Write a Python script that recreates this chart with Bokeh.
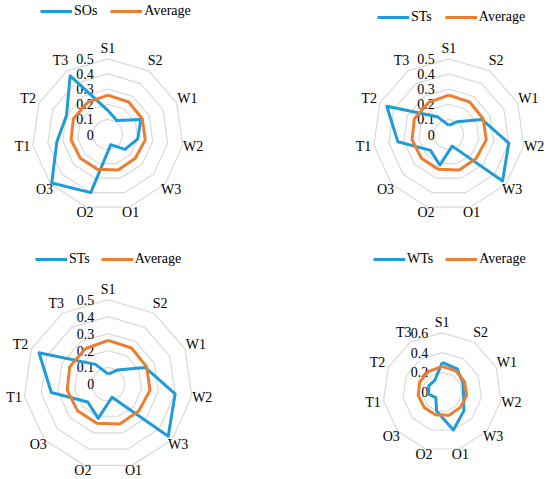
import math
from bokeh.plotting import figure
from bokeh.models import Range1d, Legend, LegendItem
from bokeh.layouts import row, column
from bokeh.embed import file_html
from bokeh.resources import INLINE
from bokeh.core.properties import value

# ---- data ----
categories = ["S1", "S2", "W1", "W2", "W3", "O1", "O2", "O3", "T1", "T2", "T3"]
sos = [0.16, 0.11, 0.24, 0.20, 0.15, 0.07, 0.40, 0.49, 0.34, 0.30, 0.46]
sts = [0.06, 0.10, 0.24, 0.40, 0.47, 0.08, 0.21, 0.16, 0.34, 0.45, 0.14]
wts = [0.30, 0.28, 0.23, 0.22, 0.29, 0.40, 0.20, 0.085, 0.14, 0.15, 0.14]
average = [0.26, 0.255, 0.25, 0.25, 0.24, 0.245, 0.24, 0.24, 0.245, 0.25, 0.25]

ticks_a = [0, 0.1, 0.2, 0.3, 0.4, 0.5]
tick_labels_a = ["0", "0.1", "0.2", "0.3", "0.4", "0.5"]
ticks_b = [0, 0.2, 0.4, 0.6]
tick_labels_b = ["0", "0.2", "0.4", "0.6"]

BLUE = "#1F9BD7"
ORANGE = "#ED7D31"
GRID = "#D9D9D9"
FONT = "'Liberation Serif', 'Times New Roman', serif"
FS = "14px"


def closed(vals, ang):
    xs = [v * math.cos(a) for v, a in zip(vals, ang)]
    ys = [v * math.sin(a) for v, a in zip(vals, ang)]
    return xs + xs[:1], ys + ys[:1]


def radar(name, series, ticks, tick_labels, width, height, cx, cy, scale,
          leg_x, leg_y, leg_spacing):
    n = len(categories)
    ang = [math.pi / 2 - 2 * math.pi * k / n for k in range(n)]
    p = figure(width=width, height=height,
               x_range=Range1d(-cx / scale, (width - cx) / scale),
               y_range=Range1d(-(height - cy) / scale, cy / scale),
               output_backend="svg", toolbar_location=None, tools="",
               min_border=0, x_axis_type=None, y_axis_type=None,
               outline_line_color=None)
    p.xgrid.visible = False
    p.ygrid.visible = False

    # rings
    for t in ticks[1:]:
        xs, ys = closed([t] * n, ang)
        p.line(xs, ys, line_color=GRID, line_width=1.2)

    # tick labels
    p.text(x=[0] * len(ticks), y=ticks, text=tick_labels, x_offset=-14,
           text_align="right", text_baseline="middle",
           text_font=value(FONT), text_font_size=FS, text_color="black")

    # category labels
    tmax = ticks[-1]
    lx, ly = [], []
    for a in ang:
        off = 7 + 3 * math.sin(a) + 4 * abs(math.cos(a))
        r = tmax + off / scale
        lx.append(r * math.cos(a))
        ly.append(r * math.sin(a))
    p.text(x=lx, y=ly, text=categories, text_align="center",
           text_baseline="middle", text_font=value(FONT),
           text_font_size=FS, text_color="black")

    # series
    bx, by = closed(series, ang)
    rb = p.line(bx, by, line_color=BLUE, line_width=3, line_join="round")
    ox, oy = closed(average, ang)
    ro = p.line(ox, oy, line_color=ORANGE, line_width=3, line_join="round")

    legend = Legend(items=[LegendItem(label=name, renderers=[rb]),
                           LegendItem(label="Average", renderers=[ro])],
                    location=(leg_x, leg_y), orientation="horizontal",
                    glyph_width=32, glyph_height=20, label_height=20,
                    label_standoff=2, spacing=leg_spacing, padding=0,
                    margin=0, border_line_color=None,
                    background_fill_alpha=0,
                    label_text_font=FONT, label_text_font_size=FS,
                    label_text_color="black")
    p.add_layout(legend)
    return p


p1 = radar("SOs", sos, ticks_a, tick_labels_a, 275, 240, 107.3, 134.0,
           151.4, 40, 219, 13)
p2 = radar("STs", sts, ticks_a, tick_labels_a, 275, 240, 173.3, 134.0,
           151.4, 102, 213, 13)
p3 = radar("STs", sts, ticks_a, tick_labels_a, 275, 239, 107.7, 143.8,
           169.0, 35, 210, 11)
p4 = radar("WTs", wts, ticks_b, tick_labels_b, 275, 239, 166.7, 151.6,
           98.8, 98, 210, 12)

layout = column(row(p1, p2), row(p3, p4))
open("out.html", "w").write(file_html(layout, INLINE))
